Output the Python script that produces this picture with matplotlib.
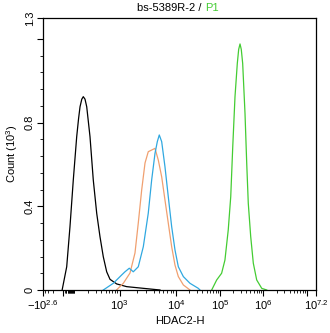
import numpy as np
import matplotlib
matplotlib.use("Agg")
import matplotlib.pyplot as plt
from matplotlib.ticker import FixedLocator, FixedFormatter

plt.rcParams['font.family'] = ['Liberation Sans', 'DejaVu Sans']
plt.rcParams['mathtext.fontset'] = 'custom'
plt.rcParams['mathtext.rm'] = 'Liberation Sans'

# histogram data (intensity, count in 10^3)
black_x = [-6, 23, 47, 79, 110, 122, 132, 145, 157, 172, 188, 223, 264, 315, 372, 440, 523, 619, 867, 1340, 2640, 5210]
black_y = [0, 0.111, 0.302, 0.526, 0.733, 0.820, 0.876, 0.912, 0.924, 0.912, 0.876, 0.733, 0.526, 0.366, 0.255, 0.159, 0.087, 0.051, 0.029, 0.016, 0.008, 0]

orange_x = [860, 1168, 1534, 1880, 2150, 2470, 2830, 3230, 3710, 4250, 4860, 5580, 6380, 7300, 8380, 9600, 11300, 14700, 20800]
orange_y = [0, 0.032, 0.081, 0.177, 0.320, 0.478, 0.607, 0.661, 0.669, 0.677, 0.621, 0.541, 0.430, 0.320, 0.207, 0.119, 0.064, 0.024, 0]

blue_x = [440, 730, 1094, 1250, 1490, 1754, 2150, 2640, 3230, 3710, 4250, 4670, 5060, 5580, 6380, 7300, 8380, 9600, 11300, 14700, 20800, 32100, 35100]
blue_y = [0, 0.032, 0.072, 0.087, 0.104, 0.087, 0.111, 0.207, 0.367, 0.526, 0.653, 0.709, 0.741, 0.709, 0.589, 0.446, 0.303, 0.191, 0.111, 0.064, 0.032, 0.008, 0]

green_x = [64700, 84100, 109000, 130000, 155000, 177000, 197000, 222000, 251000, 270000, 290000, 310000, 334000, 378000, 414000, 450000, 512000, 588000, 704000, 919000, 1197000]
green_y = [0, 0.048, 0.080, 0.143, 0.287, 0.446, 0.685, 0.924, 1.083, 1.150, 1.176, 1.150, 1.083, 0.844, 0.606, 0.414, 0.255, 0.128, 0.048, 0.008, 0]

# biexponential-like axis: anchor values and their place along the axis
anc_x = np.array([-10**2.6, 0, 100, 1000, 1e4, 1e5, 1e6, 10**7.2])
anc_p = np.array([0, 20, 32, 76.5, 133, 177, 220.3, 273]) / 273.0
anc_u = np.arcsinh(anc_x / 50.0)

def fwd(x):
    return np.interp(np.arcsinh(np.asarray(x, dtype=float) / 50.0), anc_u, anc_p)

def inv(p):
    return 50.0 * np.sinh(np.interp(np.asarray(p, dtype=float), anc_p, anc_u))

fig = plt.figure(figsize=(3.3, 3.33), dpi=100)
ax = fig.add_axes([43/330, 1-290/333, 273/330, 272/333])
ax.set_xscale('function', functions=(fwd, inv))

ax.plot(black_x, black_y, color='black', lw=0.9)
ax.plot(orange_x, orange_y, color='#F0A070', lw=0.9)
ax.plot(blue_x, blue_y, color='#30A8E0', lw=0.9)
ax.plot(green_x, green_y, color='#44CC33', lw=0.9)

ax.set_xlim(-10**2.6, 10**7.2)
ax.set_ylim(0, 1.3)

xmaj = [-10**2.6, 0, 1e3, 1e4, 1e5, 1e6, 1e7, 10**7.2]
xlab = [r'$\mathregular{-10^{2.6}}$', '', r'$\mathregular{10^{3}}$', r'$\mathregular{10^{4}}$',
        r'$\mathregular{10^{5}}$', r'$\mathregular{10^{6}}$', '', r'$\mathregular{10^{7.2}}$']
ax.xaxis.set_major_locator(FixedLocator(xmaj))
ax.xaxis.set_major_formatter(FixedFormatter(xlab))
xmin = [-300, -200, -100]
for d in range(1, 7):
    xmin += [k * 10**d for k in range(2, 10)]
xmin += list(range(10, 100, 10))
xmin = [v for v in xmin if v < 10**7.2]
ax.xaxis.set_minor_locator(FixedLocator(xmin))

ax.yaxis.set_major_locator(FixedLocator([0, 0.4, 0.8, 1.2, 1.3]))
ax.yaxis.set_major_formatter(FixedFormatter(['0', '0.4', '0.8', '', '1.3']))
ax.yaxis.set_minor_locator(FixedLocator([0.08, 0.16, 0.24, 0.32, 0.48, 0.56, 0.64, 0.72, 0.88, 0.96, 1.04, 1.12]))
for lab in ax.get_yticklabels():
    lab.set_rotation(90)
    lab.set_va('center')

ax.tick_params(which='major', length=4, width=0.8, labelsize=8, pad=2, direction='out')
ax.tick_params(which='minor', length=2.5, width=0.6, direction='out')
for s in ax.spines.values():
    s.set_linewidth(0.9)

ax.set_xlabel('HDAC2-H', fontsize=8, labelpad=3)
ax.set_ylabel(r'Count $\mathregular{(10^{3})}$', fontsize=8, labelpad=3)

fig.text(205/330, 1-8/333, 'bs-5389R-2 / ', ha='right', va='center', fontsize=8)
fig.text(205/330, 1-8/333, 'P1', ha='left', va='center', fontsize=8, color='#44CC33')

fig.savefig('out.png', dpi=100)
